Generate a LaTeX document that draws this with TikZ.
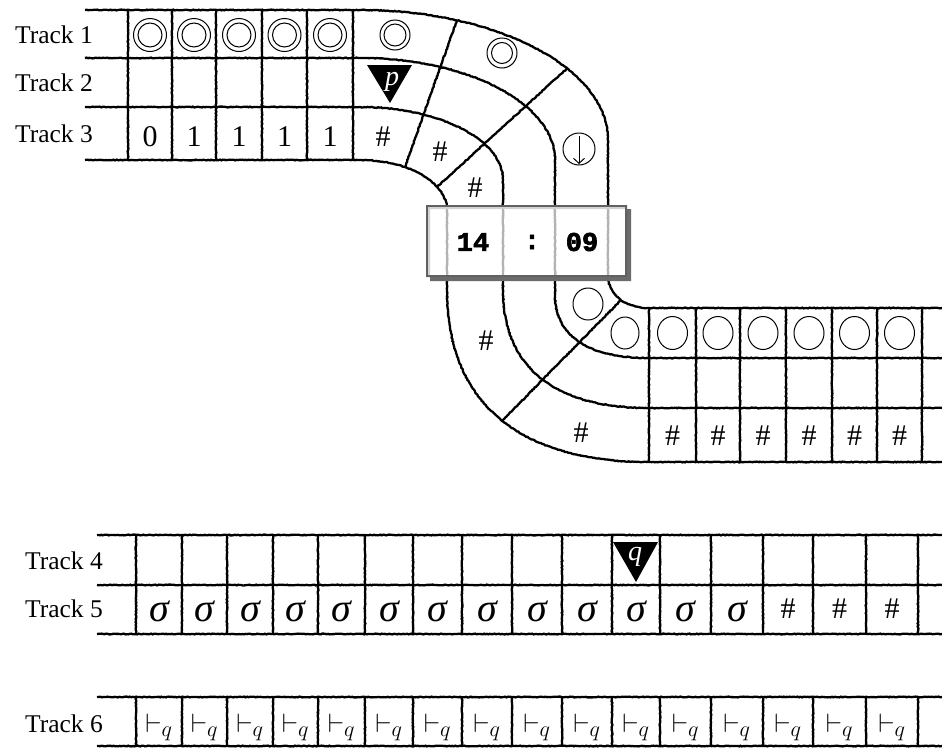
\documentclass[tikz,border=0pt]{standalone}
\usepackage{fontspec}
\setmainfont{Liberation Serif}
\newfontfamily\clockfont[FakeBold=2.5]{Liberation Mono}
\usetikzlibrary{decorations.pathmorphing,arrows.meta}

\tikzset{
  rough/.style={line width=2.3pt, decorate,
    decoration={random steps, segment length=1.5pt, amplitude=0.4pt}},
  mark circ/.style={line width=1pt},
  lbl/.style={anchor=east, inner sep=0pt, font=\fontsize{25.5}{30}\selectfont},
  sym/.style={inner sep=0pt, font=\fontsize{30}{32}\selectfont},
  sig/.style={inner sep=0pt, font=\fontsize{40}{42}\selectfont\itshape},
  turn/.style={inner sep=0pt, font=\fontsize{24.88}{28}\selectfont, scale=1.07},
  head/.style={inner sep=0pt, text=white, font=\fontsize{28}{30}\selectfont\itshape},
  clockbox/.style={draw=black!62, line width=2.5pt, fill=white, fill opacity=0.7,
    minimum width=199pt, minimum height=70pt, inner sep=0pt},
  digits/.style={inner sep=0pt, font=\fontsize{27}{30}\clockfont\bfseries}
}

\begin{document}
\begin{tikzpicture}[x=1pt, y=1pt]
    \useasboundingbox (0,0) rectangle (942,-747);

    % Bent tape, tracks 1-3
    \draw[rough] (85,-10) -- (360,-10) arc[start angle=90, end angle=0, x radius=248pt, y radius=130pt]
        -- (608,-275) .. controls (608,-295) and (625,-308) .. (649,-308) -- (942,-308);
    \draw[rough] (85,-58) -- (360,-58) arc[start angle=90, end angle=0, x radius=195pt, y radius=102pt]
        -- (555,-295) .. controls (555,-336) and (588,-358) .. (649,-358) -- (942,-358);
    \draw[rough] (85,-107) -- (360,-107) arc[start angle=90, end angle=0, x radius=143pt, y radius=73pt]
        -- (503,-290) .. controls (503,-367) and (554,-408) .. (649,-408) -- (942,-408);
    \draw[rough] (85,-160) -- (360,-160) arc[start angle=90, end angle=0, x radius=87pt, y radius=50pt]
        -- (447,-290) .. controls (447,-402) and (518,-462) .. (649,-462) -- (942,-462);

    % Cell walls
    \foreach \x in {128,172,216,262,307,353}
        \draw[rough] (\x,-10) -- (\x,-160);
    \draw[rough] (457,-20) -- (405,-167);
    \draw[rough] (567,-68.5) -- (437,-187);
    \draw[rough] (621,-300) -- (502,-421);
    \foreach \x in {649,696,740,786,832,877,922}
        \draw[rough] (\x,-308) -- (\x,-462);

    % Track labels
    \node[lbl] (t1) at (93,-35) {Track 1};
    \node[lbl] (t2) at (93,-83) {Track 2};
    \node[lbl] (t3) at (93,-134) {Track 3};

    % Track 1 marks
    \foreach \x in {150,194,239,284.5,330}
        \draw[mark circ] (\x,-35) circle[radius=16.5pt] (\x,-35) circle[radius=12pt];
    \draw[mark circ] (395,-35) circle[radius=15pt] (395,-35) circle[radius=11pt];
    \draw[mark circ] (502,-53) circle[radius=15pt] (502,-53) circle[radius=10.5pt];
    \draw[mark circ] (579,-149) circle[radius=16pt];
    \draw[mark circ, -{Straight Barb[length=5pt, width=11pt]}] (579,-136) -- (579,-164);
    \draw[mark circ] (588,-304) circle[x radius=15pt, y radius=16pt];
    \draw[mark circ] (625,-333) circle[x radius=14pt, y radius=16pt];
    \foreach \x in {672.5,718,763,809,854.5,899.5}
        \draw[mark circ] (\x,-333) circle[x radius=15pt, y radius=16.5pt];

    % Track 2 head
    \fill (367,-65) -- (412,-65) -- (390,-103) -- cycle;
    \node[head] (ptag) at (392,-82) {p};

    % Track 3 symbols
    \node[sym] (c1) at (150,-137) {0};
    \node[sym] (c2) at (194,-137) {1};
    \node[sym] (c3) at (239,-137) {1};
    \node[sym] (c4) at (284.5,-137) {1};
    \node[sym] (c5) at (330,-137) {1};
    \node[sym] (c6) at (383,-137) {\#};
    \node[sym] (c7) at (440,-152) {\#};
    \node[sym] (c8) at (475,-188) {\#};
    \node[sym] (c9) at (486,-341) {\#};
    \node[sym] (c10) at (581,-433) {\#};
    \foreach \x [count=\i] in {672.5,718,763,809,854.5,899.5}
        \node[sym] (r\i) at (\x,-436) {\#};

    % Clock
    \fill[black!58, even odd rule] (430,-209) rectangle (631,-281) (426,-205) rectangle (627,-277);
    \node[clockbox] (clock) at (526.5,-241) {};
    \node[digits] (hours) at (473,-242) {14};
    \node[digits] (colon) at (532,-242) {:};
    \node[digits] (mins) at (582,-242) {09};

    % Tracks 4 and 5
    \draw[rough] (97,-535) -- (942,-535);
    \draw[rough] (97,-585) -- (942,-585);
    \draw[rough] (97,-634) -- (942,-634);
    \foreach \x in {136,182,227,273,318,365,413,462,512,562,612,660,711,763,813,866,918}
        \draw[rough] (\x,-535) -- (\x,-634);
    \node[lbl] (t4) at (103,-561) {Track 4};
    \node[lbl] (t5) at (103,-609) {Track 5};
    \foreach \x [count=\i] in {159,204.5,250,295.5,341.5,389,437.5,487,537,587,636,685.5,737}
        \node[sig] (s\i) at (\x,-611) {σ};
    \foreach \x [count=\i] in {788,839.5,892}
        \node[sym] (b\i) at (\x,-609) {\#};
    \fill (613,-542) -- (658,-542) -- (636,-582) -- cycle;
    \node[head] (qtag) at (635,-557) {q};

    % Track 6
    \draw[rough] (97,-697) -- (942,-697);
    \draw[rough] (97,-746) -- (942,-746);
    \foreach \x in {136,182,227,273,318,365,413,462,512,562,612,660,711,763,813,866,918}
        \draw[rough] (\x,-697) -- (\x,-746);
    \node[lbl] (t6) at (103,-724) {Track 6};
    \foreach \x [count=\i] in {159,204.5,250,295.5,341.5,389,437.5,487,537,587,636,685.5,737,788,839.5,892}
        \node[turn] (v\i) at (\x,-727) {$\vdash_q$};
\end{tikzpicture}
\end{document}
